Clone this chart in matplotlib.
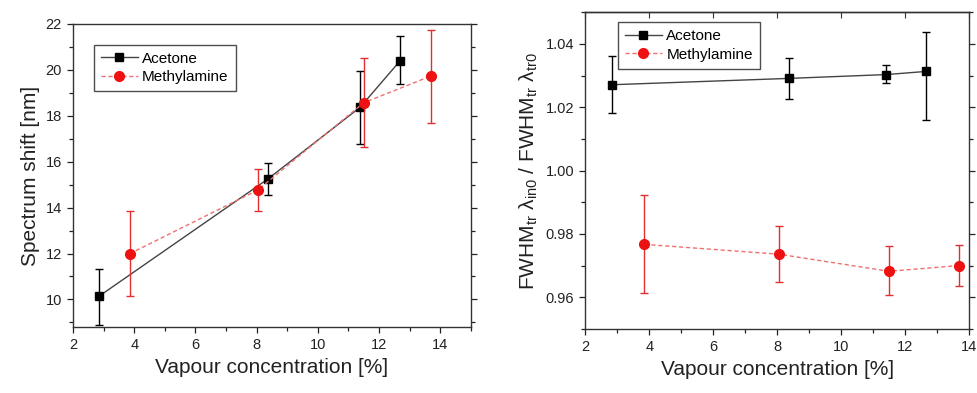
import matplotlib
matplotlib.use("Agg")
import matplotlib.pyplot as plt
from matplotlib.ticker import MultipleLocator
from matplotlib.lines import Line2D

plt.rcParams['font.family'] = ['Liberation Sans', 'DejaVu Sans']
plt.rcParams['mathtext.fontset'] = 'custom'
plt.rcParams['mathtext.rm'] = 'Liberation Sans'
plt.rcParams['mathtext.it'] = 'Liberation Sans:italic'
plt.rcParams['mathtext.default'] = 'regular'

# Left panel: spectrum shift
ace_x_shift = [2.84, 8.37, 11.38, 12.69]
ace_shift = [10.13, 15.25, 18.37, 20.40]
ace_shift_lo = [8.87, 14.55, 16.79, 19.37]
ace_shift_hi = [11.34, 15.96, 19.95, 21.49]

met_x_shift = [3.85, 8.03, 11.50, 13.69]
met_shift = [11.99, 14.76, 18.57, 19.73]
met_shift_lo = [10.15, 13.84, 16.65, 17.69]
met_shift_hi = [13.84, 15.70, 20.50, 21.74]

# Right panel: FWHM ratio
ace_x_fw = [2.85, 8.38, 11.40, 12.66]
ace_fw = [1.0271, 1.0291, 1.0303, 1.0313]
ace_fw_lo = [1.0183, 1.0227, 1.0277, 1.0161]
ace_fw_hi = [1.0363, 1.0355, 1.0334, 1.0439]

met_x_fw = [3.85, 8.05, 11.49, 13.67]
met_fw = [0.9767, 0.9736, 0.9682, 0.9700]
met_fw_lo = [0.9614, 0.9647, 0.9606, 0.9637]
met_fw_hi = [0.9924, 0.9824, 0.9761, 0.9764]

labels = ["Acetone", "Methylamine"]

ACE_LINE = '#444444'
MET_LINE = '#f07070'
MET_MARK = '#ee1111'

fig = plt.figure(figsize=(9.77, 3.93), dpi=100)
ax1 = fig.add_axes([0.0747, 0.168, 0.4073, 0.771])
ax2 = fig.add_axes([0.599, 0.163, 0.393, 0.806])

def err(v, lo, hi):
    return [[a - b for a, b in zip(v, lo)], [c - a for a, c in zip(v, hi)]]

def draw(ax, ax_x, ay, alo, ahi, mx, my, mlo, mhi):
    ax.errorbar(ax_x, ay, yerr=err(ay, alo, ahi), color=ACE_LINE, ecolor='black',
                lw=1.0, elinewidth=1.0, capsize=3, capthick=1.0,
                marker='s', ms=6, mfc='black', mec='black', zorder=3)
    ax.errorbar(mx, my, yerr=err(my, mlo, mhi), color=MET_LINE, ecolor='#e03030',
                lw=1.0, ls=(0, (3, 2)), elinewidth=1.0, capsize=3, capthick=1.0,
                marker='o', ms=7, mfc=MET_MARK, mec=MET_MARK, zorder=4)
    ax.xaxis.set_major_locator(MultipleLocator(2))
    ax.xaxis.set_minor_locator(MultipleLocator(1))
    ax.tick_params(which='both', direction='out', labelsize=10.5, colors='#222222', width=0.9)
    ax.tick_params(which='major', length=4.5)
    ax.tick_params(which='minor', length=3)
    ax.tick_params(right=True, which='both')
    for s in ax.spines.values():
        s.set_linewidth(1.0)
        s.set_color('#333333')
    ax.set_xlabel("Vapour concentration [%]", fontsize=15, color='#222222')
    handles = [
        Line2D([], [], color=ACE_LINE, lw=1.0, marker='s', ms=6, mfc='black', mec='black'),
        Line2D([], [], color=MET_LINE, lw=1.0, ls=(0, (3, 2)), marker='o', ms=7,
               mfc=MET_MARK, mec=MET_MARK),
    ]
    leg = ax.legend(handles, labels, loc='upper left', fontsize=11, frameon=True, fancybox=False,
                    edgecolor='#222222', handlelength=2.4, borderpad=0.45,
                    labelspacing=0.3, handletextpad=0.3, borderaxespad=0)
    leg.get_frame().set_linewidth(1.0)
    return leg

leg1 = draw(ax1, ace_x_shift, ace_shift, ace_shift_lo, ace_shift_hi,
            met_x_shift, met_shift, met_shift_lo, met_shift_hi)
ax1.set_xlim(2, 15)
ax1.set_ylim(8.8, 22)
ax1.yaxis.set_major_locator(MultipleLocator(2))
ax1.yaxis.set_minor_locator(MultipleLocator(1))
ax1.set_ylabel("Spectrum shift [nm]", fontsize=15, color='#222222')
leg1.set_bbox_to_anchor((0.053, 0.931), transform=ax1.transAxes)

leg2 = draw(ax2, ace_x_fw, ace_fw, ace_fw_lo, ace_fw_hi,
            met_x_fw, met_fw, met_fw_lo, met_fw_hi)
ax2.set_xlim(2, 14)
ax2.set_ylim(0.95, 1.05)
ax2.yaxis.set_major_locator(MultipleLocator(0.02))
ax2.yaxis.set_minor_locator(MultipleLocator(0.01))
sec = ax2.secondary_xaxis('top')
sec.xaxis.set_major_locator(MultipleLocator(2))
sec.tick_params(direction='in', labeltop=False, length=4, colors='#333333')
sec.spines['top'].set_linewidth(1.0)
sec.spines['top'].set_color('#333333')
ax2.set_ylabel(r"FWHM$_{tr}$ $\lambda_{in0}$ / FWHM$_{tr}$ $\lambda_{tr0}$", fontsize=15, color='#222222')
leg2.set_bbox_to_anchor((0.086, 0.968), transform=ax2.transAxes)

fig.savefig("out.png", dpi=100)
